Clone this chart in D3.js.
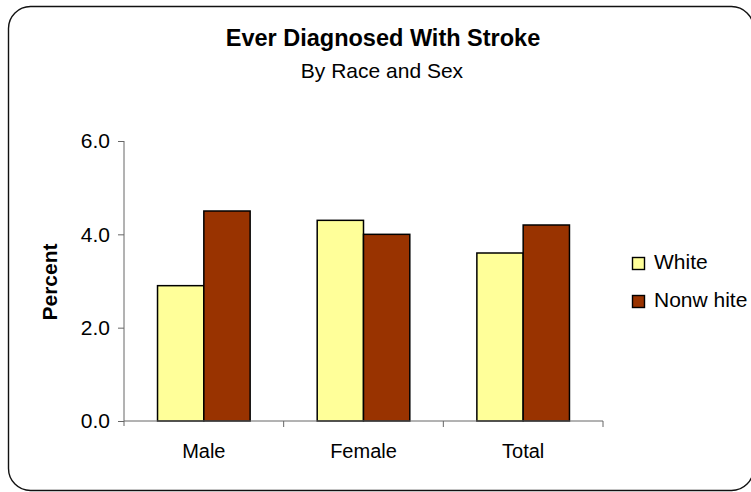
<!DOCTYPE html>
<html>
<head>
<meta charset="utf-8">
<script src="https://cdn.jsdelivr.net/npm/d3@7"></script>
<style>
  html, body { margin: 0; padding: 0; background: #fff; }
  svg { display: block; font-family: "Liberation Sans", Arial, sans-serif; }
</style>
</head>
<body>
<svg id="chart" width="751" height="492"></svg>
<script>
const categories = ["Male", "Female", "Total"];
const seriesNames = ["White", "Nonw hite"];
const whiteValues = [2.9, 4.3, 3.6];
const nonwhiteValues = [4.5, 4.0, 4.2];
const yTicks = [0, 2, 4, 6];
const seriesColors = ["#FFFF99", "#993300"];

const svg = d3.select("#chart");

// frame
svg.append("rect")
  .attr("x", 8.5).attr("y", 6.5)
  .attr("width", 745).attr("height", 484)
  .attr("rx", 22).attr("ry", 22)
  .attr("fill", "#fff").attr("stroke", "#111").attr("stroke-width", 1.4);

const plotL = 124, plotR = 603, plotT = 141, plotB = 421;

const y = d3.scaleLinear().domain([0, 6]).range([plotB, plotT]);
const x0 = d3.scaleBand().domain(categories).range([plotL, plotR])
  .paddingInner(0.42).paddingOuter(0.21);
const x1 = d3.scaleBand().domain([0, 1]).range([0, x0.bandwidth()]);

// titles
svg.append("text").attr("x", 383).attr("y", 46).attr("text-anchor", "middle")
  .attr("font-size", 23.5).attr("font-weight", "bold")
  .text("Ever Diagnosed With Stroke");
svg.append("text").attr("x", 382).attr("y", 78).attr("text-anchor", "middle")
  .attr("font-size", 21).text("By Race and Sex");

// y axis
const yAxis = d3.axisLeft(y).tickValues(yTicks).tickFormat(d3.format(".1f")).tickSize(6).tickPadding(8);
const gy = svg.append("g").attr("transform", `translate(${plotL},0)`).call(yAxis);
gy.select(".domain").attr("stroke", "#666").attr("d", `M0,${plotB+5}V${plotT}`);
gy.selectAll(".tick line").attr("stroke", "#666");
gy.selectAll(".tick text").attr("font-size", 21).attr("fill", "#000")
  .attr("font-family", "Liberation Sans, Arial, sans-serif");

// y label
svg.append("text").attr("transform", `translate(57,282) rotate(-90)`)
  .attr("text-anchor", "middle").attr("font-size", 21).attr("font-weight", "bold").text("Percent");

// bars
const data = categories.map((c, i) => ({ cat: c, vals: [whiteValues[i], nonwhiteValues[i]] }));
const groups = svg.append("g").selectAll("g").data(data).join("g")
  .attr("transform", d => `translate(${x0(d.cat)},0)`);
groups.selectAll("rect").data(d => d.vals.map((v, k) => ({ v, k }))).join("rect")
  .attr("x", d => x1(d.k))
  .attr("y", d => y(d.v))
  .attr("width", x1.bandwidth())
  .attr("height", d => y(0) - y(d.v))
  .attr("fill", d => seriesColors[d.k])
  .attr("stroke", "#000").attr("stroke-width", 1.5);

// x axis
const gx = svg.append("g").attr("transform", `translate(0,${plotB})`);
gx.append("line").attr("x1", plotL).attr("x2", plotR).attr("stroke", "#666");
const tickPos = categories.map(c => x0(c) + x0.bandwidth() / 2 + x0.step() / 2);
gx.selectAll(".xt").data(tickPos).join("line").attr("class", "xt")
  .attr("x1", d => d).attr("x2", d => d).attr("y1", 0).attr("y2", 6).attr("stroke", "#666");
gx.selectAll(".xl").data(categories).join("text").attr("class", "xl")
  .attr("x", d => x0(d) + x0.bandwidth() / 2).attr("y", 37)
  .attr("text-anchor", "middle").attr("font-size", 20).text(d => d);

// legend
const legend = svg.append("g").attr("transform", "translate(632,257)");
const li = legend.selectAll("g").data(seriesNames).join("g")
  .attr("transform", (d, i) => `translate(0,${i * 38})`);
li.append("rect").attr("x", 0.5).attr("y", 0.5).attr("width", 12).attr("height", 12)
  .attr("fill", (d, i) => seriesColors[i]).attr("stroke", "#000").attr("stroke-width", 1.4);
li.append("text").attr("x", 22).attr("y", 11.5).attr("font-size", 21).text(d => d);
</script>
</body>
</html>
